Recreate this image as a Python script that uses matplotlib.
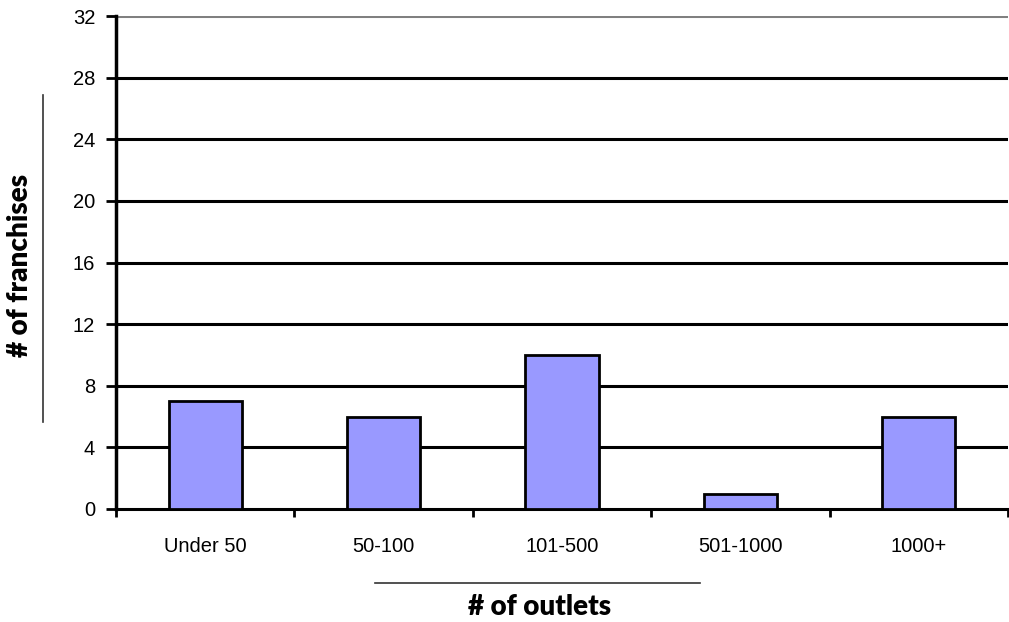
"""Franchise count by outlet size"""

import matplotlib
matplotlib.use("Agg")
import matplotlib.pyplot as plt
from matplotlib.lines import Line2D

categories = ["Under 50", "50-100", "101-500", "501-1000", "1000+"]
franchises = [7, 6, 10, 1, 6]
y_ticks = [0, 4, 8, 12, 16, 20, 24, 28, 32]

W, H = 1009, 622
fig = plt.figure(figsize=(W / 100, H / 100), dpi=100)
ax = fig.add_axes([116 / W, 1 - 509 / H, 892 / W, 493 / H])

x = list(range(len(categories)))
ax.bar(x, franchises, width=0.41, color="#9999ff", edgecolor="black",
       linewidth=2, zorder=3)

ax.set_xlim(-0.5, len(categories) - 0.5)
ax.set_ylim(0, 32)
ax.set_yticks(y_ticks)
for t in y_ticks[1:]:
    ax.axhline(t, color="#808080" if t == 32 else "black", lw=2.2, zorder=1)

# category labels centred, tick marks between categories
ax.set_xticks(x)
ax.set_xticklabels(categories, fontsize=14.5, family="Liberation Sans")
ax.tick_params(axis="x", which="major", length=0, pad=20)
ax.set_xticks([i + 0.5 for i in range(-1, len(categories))], minor=True)
ax.tick_params(axis="x", which="minor", length=6, width=2, direction="out")
ax.tick_params(axis="y", length=7, width=2, direction="out",
               labelsize=14.5, pad=8)
for lab in ax.get_yticklabels():
    lab.set_family("Liberation Sans")

for side in ["top", "right"]:
    ax.spines[side].set_visible(False)
ax.spines["left"].set_linewidth(2.5)
ax.spines["bottom"].set_linewidth(2.2)

# axis titles with rules beside them
fig.text(20 / W, 1 - 265 / H, "# of franchises", rotation=90, ha="center",
         va="center", fontsize=20, fontweight="heavy", family="Lato")
fig.add_artist(Line2D([43 / W, 43 / W], [1 - 95 / H, 1 - 422 / H],
                      color="#333333", lw=1.2))
fig.text(540 / W, 1 - 607 / H, "# of outlets", ha="center", va="center",
         fontsize=20, fontweight="heavy", family="Lato")
fig.add_artist(Line2D([375 / W, 700 / W], [1 - 583 / H, 1 - 583 / H],
                      color="#333333", lw=1.2))

fig.savefig("out.png", dpi=100)
